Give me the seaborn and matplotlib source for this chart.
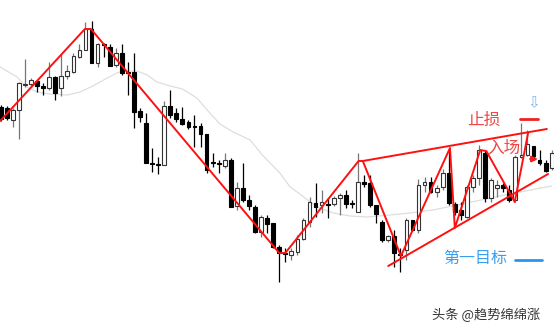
import numpy as np
import pandas as pd
import matplotlib
matplotlib.use("Agg")
import matplotlib.pyplot as plt
import seaborn as sns

# ---- candle data (open, close, high, low) ----
opens = [224, 223, 211, 221, 246.5, 247, 250, 245, 243, 254, 243, 255, 259, 274, 281, 302,
         268, 287, 284, 266, 278, 259, 259, 220, 208, 168, 167, 166, 225, 218, 212, 209,
         205, 205, 197, 169, 168, 165, 171, 125, 143, 131, 124, 99, 113, 108, 84, 78,
         76, 79, 92, 109, 128, 126, 127, 127, 133, 136, 128, 119, 149, 148, 126, 109,
         91, 95, 77, 81, 111, 101, 146, 149, 139, 144, 158, 127, 121, 114, 144, 153,
         178, 133, 143, 146, 141, 131, 174, 176, 185, 171, 168, 163]
closes = [212, 213, 221, 248, 247, 251, 245, 243, 254, 238, 255, 260, 275, 281, 302, 268,
          287, 286, 265, 278, 258, 258.5, 219, 214, 168, 167.5, 166.5, 225, 216, 212, 207, 204,
          204.5, 197, 161, 168.5, 167.5, 171, 124, 143, 131, 125, 99, 114, 107, 84, 78, 77.5,
          80, 92, 111, 129, 124, 129, 126.5, 133, 136, 127, 127.5, 149, 147, 126, 117, 91,
          95, 78, 76.5, 111, 101, 146, 149, 139, 143, 158, 128, 119, 116, 144, 153, 181,
          133, 151, 146, 143, 131, 174, 176, 187, 175, 168, 160, 178]
highs = [226, 225, 223, 249, 272, 253, 251, 248, 269, 255, 277, 266, 278, 287, 309, 310,
         288, 288, 287, 283, 287, 269, 278, 223, 218, 183, 174, 230, 241, 223, 224, 211,
         216, 208, 197, 178, 171, 178, 173, 149, 168, 136, 126, 116, 116, 108, 86, 83,
         83, 96, 113, 134, 148, 141, 133, 135, 138, 141, 131, 178, 156, 156, 126, 111,
         96, 101, 83, 113, 111, 152, 154, 154, 146, 162, 181, 129, 129, 146, 156, 186,
         181, 153, 151, 148, 146, 176, 208, 201, 185, 181, 171, 181]
lows = [210, 211, 204, 192, 244, 244, 239, 236, 241, 231, 235, 252, 258, 273, 281, 268,
        264, 274, 265, 264, 256, 236, 203, 209, 168, 159, 157, 166, 213, 209, 206, 202,
        184, 184, 158, 164, 158, 163, 124, 121, 129, 121, 98, 94, 98, 83, 49, 69,
        71, 76, 91, 104, 114, 118, 113, 125, 116, 123, 123, 119, 144, 124, 108, 89,
        89, 64, 59, 71, 100, 98, 139, 138, 134, 141, 126, 116, 111, 113, 139, 146,
        129, 129, 134, 139, 129, 129, 173, 175, 171, 166, 159, 161]

ma_idx = [-0.1, 2.7, 4.3, 6.0, 8.1, 11.0, 13.1, 15.2, 17.6, 19.2, 20.2, 22.5, 24.2, 25.8,
          28.0, 30.0, 32.4, 34.1, 36.2, 38.4, 41.2, 43.2, 46.1, 47.8, 49.4, 51.1, 52.7,
          54.9, 57.7, 60.5, 64.3, 67.6, 71.4, 77.0, 82.5, 85.8, 91.0]
ma_val = [264, 254, 244, 239, 237, 236, 239, 245, 253, 258, 260, 260, 256, 249,
          245, 242, 233, 221, 207, 199, 191, 176, 158, 144, 137, 129, 123,
          118, 115, 114, 116, 118, 121, 128, 135, 139, 145]

# ---- red swing lines ----
zz_idx = [-0.1, 13.9, 14.9, 46.0, 47.0, 59.1, 59.8, 66.1, 74.2, 75.0, 79.2, 80.2, 84.9, 87.1]
zz_val = [210, 302, 302, 78, 78, 170, 170, 75, 183, 103, 181, 180, 129, 198]
upper_idx = [59.8, 90.2]
upper_val = [170, 202]
lower_idx = [64.0, 90.4]
lower_val = [65, 157]

labels = ["止损", "入场", "第一目标", "头条 @趋势绵绵涨"]

sns.set_style("white")
plt.rcParams["font.family"] = ["Noto Sans CJK SC", "DejaVu Sans"]

fig = plt.figure(figsize=(5.54, 3.31), dpi=100)
ax = fig.add_axes([0, 0, 1, 1])

df = pd.DataFrame({"o": opens, "c": closes, "h": highs, "l": lows})
df["i"] = np.arange(len(df))
up = df["c"] >= df["o"]

# moving average
sns.lineplot(x=ma_idx, y=ma_val, sort=False, estimator=None, color="#dedede",
             linewidth=0.9, ax=ax, zorder=1)

# wicks
ax.vlines(df.loc[up, "i"], df.loc[up, "l"], df.loc[up, "h"], color="#777777", linewidth=0.9, zorder=2)
ax.vlines(df.loc[~up, "i"], df.loc[~up, "l"], df.loc[~up, "h"], color="#000000", linewidth=0.9, zorder=2)
# bodies
bw = 0.62
body_lo = np.minimum(df["o"], df["c"])
body_h = np.maximum(np.abs(df["c"] - df["o"]), 0.4)
ax.bar(df.loc[up, "i"], body_h[up], bottom=body_lo[up], width=bw, color="white",
       edgecolor="#333333", linewidth=0.8, zorder=3)
ax.bar(df.loc[~up, "i"], body_h[~up], bottom=body_lo[~up], width=bw, color="black",
       edgecolor="black", linewidth=0.8, zorder=3)

# red lines
red = "#ff1010"
sns.lineplot(x=zz_idx, y=zz_val, sort=False, estimator=None, color=red, linewidth=1.4, ax=ax, zorder=4)
sns.lineplot(x=upper_idx, y=upper_val, sort=False, estimator=None, color=red, linewidth=1.4, ax=ax, zorder=4)
sns.lineplot(x=lower_idx, y=lower_val, sort=False, estimator=None, color=red, linewidth=1.4, ax=ax, zorder=4)

# annotations
ax.text(79.8, 211, labels[0], color="#f04545", fontsize=12, ha="center", va="center", zorder=6)
ax.plot([85.8, 88.7], [212, 212], color="#f02020", linewidth=2, zorder=6)
ax.text(88.0, 228, "⇩", color="#7ab8f0", fontsize=11, ha="center", va="center",
        family=["DejaVu Sans"], zorder=6)
ax.text(83.1, 183, labels[1], color="#f04545", fontsize=12, ha="center", va="center", zorder=6)
ax.annotate("", xy=(89.2, 172), xytext=(87.0, 172),
            arrowprops=dict(arrowstyle="-|>", color="#f02020", lw=1.6, mutation_scale=8), zorder=6)
ax.text(78.3, 73, labels[2], color="#3a9ef0", fontsize=11.5, ha="center", va="center", zorder=6)
ax.plot([84.9, 89.4], [71, 71], color="#2a95f0", linewidth=2, zorder=6)
ax.text(80.2, 16, labels[3], color="#333333", fontsize=9.5, ha="center", va="center", zorder=6)

ax.set_xlim(-0.12, 91.38)
ax.set_ylim(0, 331)
ax.axis("off")
fig.savefig("out.png", dpi=100, facecolor="white")
